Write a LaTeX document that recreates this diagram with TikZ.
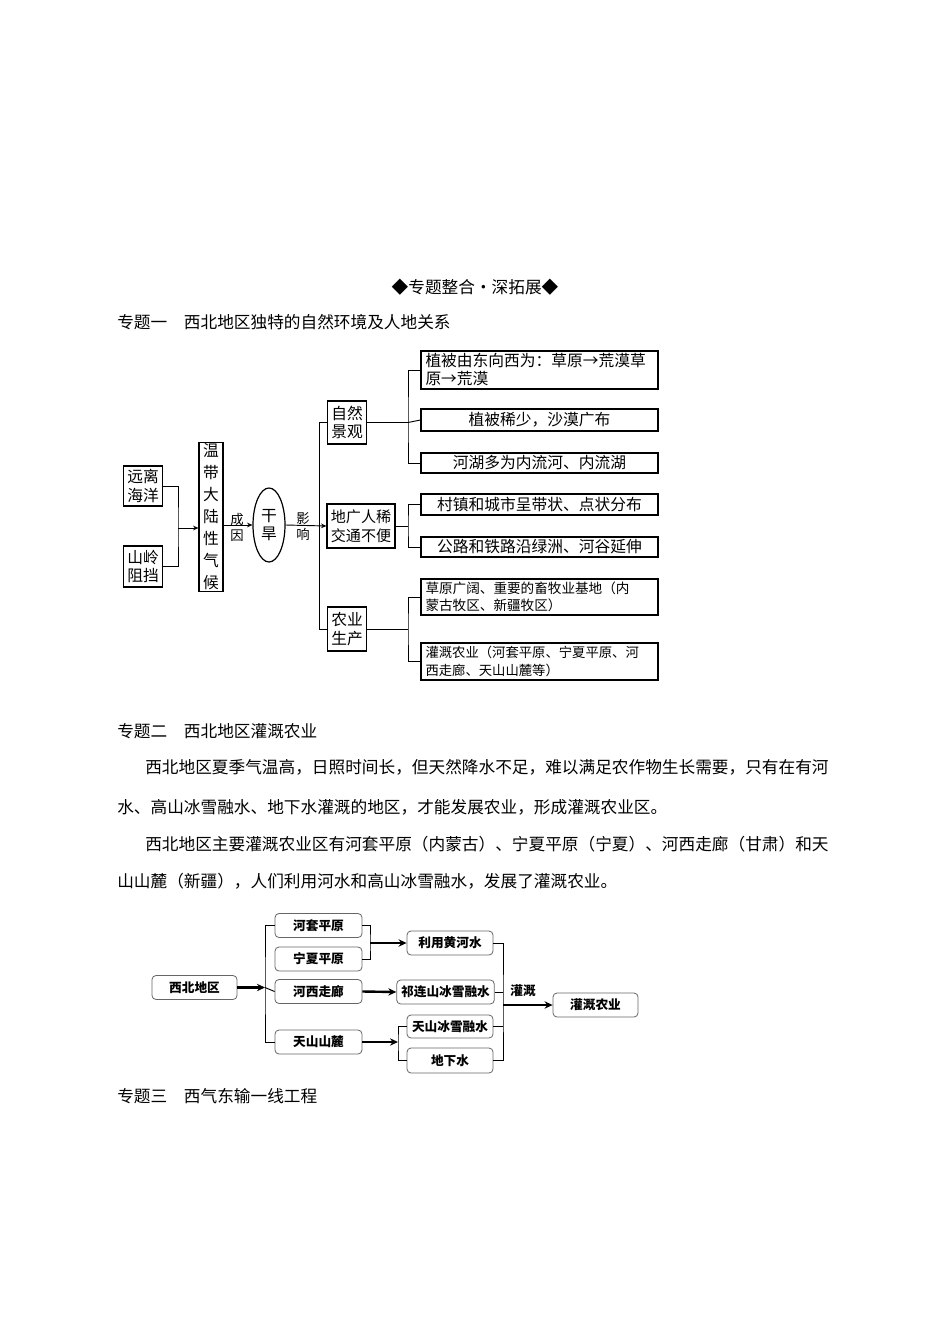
\documentclass[tikz,border=0pt]{standalone}
\usepackage{fontspec}
\setmainfont{Noto Sans CJK SC}
\usetikzlibrary{shapes.geometric,arrows.meta}
\begin{document}
\begin{tikzpicture}[x=0.75pt,y=-0.75pt,
 bx/.style={draw,line width=0.9pt,inner sep=1pt,font=\fontsize{11.8pt}{14pt}\selectfont,align=center},
 rb/.style={draw,line width=0.9pt,inner sep=2pt,minimum width=237*0.75pt,text width=228*0.75pt,font=\fontsize{11.8pt}{13.5pt}\selectfont},
 rn/.style={draw=gray!80!black,rounded corners=3pt,line width=0.6pt,minimum height=24*0.75pt,font=\bfseries\fontsize{9.5pt}{11pt}\selectfont},
 ln/.style={line width=0.7pt},
 ar/.style={line width=0.7pt,-{Stealth[length=4pt,width=3.5pt]}},
 tk/.style={line width=1.8pt,-{Stealth[length=6pt,width=5.5pt]}},
 body/.style={anchor=west,inner sep=0pt,font=\fontsize{12.5pt}{15pt}\selectfont}]
\useasboundingbox (0,0) rectangle (950,1344);
\fill[white] (0,0) rectangle (950,1344);
% texts
\node[font=\fontsize{12.5pt}{15pt}\selectfont] (title) at (475,287) {◆专题整合·深拓展◆};
\node[body] (h1) at (117,322) {专题一　西北地区独特的自然环境及人地关系};
\node[body] (h2) at (117,731) {专题二　西北地区灌溉农业};
\node[body] (p1) at (145,767) {西北地区夏季气温高，日照时间长，但天然降水不足，难以满足农作物生长需要，只有在有河};
\node[body] (p2) at (117,807) {水、高山冰雪融水、地下水灌溉的地区，才能发展农业，形成灌溉农业区。};
\node[body] (p3) at (145,844) {西北地区主要灌溉农业区有河套平原（内蒙古）、宁夏平原（宁夏）、河西走廊（甘肃）和天};
\node[body] (p4) at (117,881) {山山麓（新疆），人们利用河水和高山冰雪融水，发展了灌溉农业。};
\node[body] (h3) at (117,1096) {专题三　西气东输一线工程};
% diagram 1
\node[bx,minimum width=39*0.75pt,minimum height=40*0.75pt] (hy) at (143,486) {远离\\海洋};
\node[bx,minimum width=39*0.75pt,minimum height=41*0.75pt] (sl) at (143,566.5) {山岭\\阻挡};
\node[bx,minimum width=24*0.75pt,minimum height=130*0.75pt,font=\fontsize{11.8pt}{16.5pt}\selectfont] (wd) at (211,517) {温\\带\\大\\陆\\性\\气\\候};
\node[draw,ellipse,line width=0.9pt,minimum width=32*0.75pt,minimum height=74*0.75pt,inner sep=0pt,align=center,font=\fontsize{11.8pt}{14pt}\selectfont] (gh) at (269,525) {干\\旱};
\node[align=center,font=\fontsize{10pt}{12pt}\selectfont,inner sep=0pt] (cy) at (237,527) {成\\因};
\node[align=center,font=\fontsize{10pt}{12pt}\selectfont,inner sep=0pt] (yx) at (303,527) {影\\响};
\node[bx,minimum width=39*0.75pt,minimum height=43*0.75pt] (zr) at (347,422.5) {自然\\景观};
\node[bx,minimum width=68*0.75pt,minimum height=44*0.75pt,font=\fontsize{11.3pt}{14pt}\selectfont] (dg) at (361,526) {地广人稀\\交通不便};
\node[bx,minimum width=39*0.75pt,minimum height=44*0.75pt] (ny) at (347,629) {农业\\生产};
\node[rb,minimum height=38*0.75pt] (r1) at (539.5,370) {植被由东向西为：草原→荒漠草\\原→荒漠};
\node[rb,minimum height=22*0.75pt,align=center] (r2) at (539.5,420) {植被稀少，沙漠广布};
\node[rb,minimum height=20*0.75pt,align=center] (r3) at (539.5,463) {河湖多为内流河、内流湖};
\node[rb,minimum height=21*0.75pt,align=center] (r4) at (539.5,504.5) {村镇和城市呈带状、点状分布};
\node[rb,minimum height=20*0.75pt,align=center] (r5) at (539.5,547) {公路和铁路沿绿洲、河谷延伸};
\node[rb,minimum height=36*0.75pt,font=\fontsize{10.2pt}{13pt}\selectfont] (r6) at (539.5,597) {草原广阔、重要的畜牧业基地（内\\蒙古牧区、新疆牧区）};
\node[rb,minimum height=37*0.75pt,font=\fontsize{10pt}{13pt}\selectfont] (r7) at (539.5,661.5) {灌溉农业（河套平原、宁夏平原、河\\西走廊、天山山麓等）};
\coordinate (j1) at (178,528);
\draw[ln] (hy.east) -| (j1) |- (sl.east);
\draw[ar] (j1) -- (j1 -| wd.west);
\draw[ar] (wd.east |- gh) -- (gh.west);
\draw[ar] (gh.east) -- (dg.west);
\coordinate (t1) at (319,422.5);
\coordinate (t3) at (319,629);
\draw[ln] (zr.west) -- (t1) -- (t3) -- (ny.west);
\coordinate (b1) at (408,422.5);
\draw[ln] (zr.east) -- (b1);
\draw[ln] (r1.west) -| (b1) |- (r3.west);
\draw[ln] (b1) -- (r2.west);
\coordinate (b2) at (408,526);
\draw[ln] (dg.east) -- (b2);
\draw[ln] (r4.west) -| (b2) |- (r5.west);
\coordinate (b3) at (408,629);
\draw[ln] (ny.east) -- (b3);
\draw[ln] (r6.west) -| (b3) |- (r7.west);
% diagram 2
\node[rn,minimum width=85*0.75pt] (xb) at (194.5,987.5) {西北地区};
\node[rn,minimum width=87*0.75pt] (ht) at (318.5,925.5) {河套平原};
\node[rn,minimum width=87*0.75pt] (nx) at (318.5,959) {宁夏平原};
\node[rn,minimum width=87*0.75pt] (hx) at (318.5,991.5) {河西走廊};
\node[rn,minimum width=87*0.75pt] (ts) at (318.5,1042) {天山山麓};
\node[rn,minimum width=86*0.75pt] (hh) at (450,943) {利用黄河水};
\node[rn,minimum width=95*0.75pt] (ql) at (445.5,992) {祁连山冰雪融水};
\node[rn,minimum width=86*0.75pt,minimum height=23*0.75pt] (tb) at (450,1026.5) {天山冰雪融水};
\node[rn,minimum width=86*0.75pt,minimum height=25*0.75pt] (dx) at (450,1060.5) {地下水};
\node[rn,minimum width=85*0.75pt] (gn) at (595.5,1005) {灌溉农业};
\node[font=\bfseries\fontsize{9.5pt}{11pt}\selectfont] (gg) at (523,991) {灌溉};
\coordinate (v1) at (265,987.5);
\draw[tk] (xb.east) -- (v1);
\draw[ln] (ht.west) -| (v1) |- (ts.west);
\draw[ln] (v1) -- (hx.west);
\coordinate (v2) at (370,943);
\draw[ln] (ht.east) -| (v2) |- (nx.east);
\draw[tk] (v2) -- (hh.west);
\draw[tk] (hx.east) -- (ql.west);
\coordinate (v3) at (398,1042);
\draw[tk] (ts.east) -- (v3);
\draw[ln] (tb.west) -| (v3) |- (dx.west);
\coordinate (v4) at (503,1005);
\draw[ln] (hh.east) -| (v4) |- (dx.east);
\draw[ln] (ql.east) -- (ql.east -| v4);
\draw[ln] (tb.east) -- (tb.east -| v4);
\draw[tk] (v4) -- (gn.west);
\end{tikzpicture}
\end{document}
